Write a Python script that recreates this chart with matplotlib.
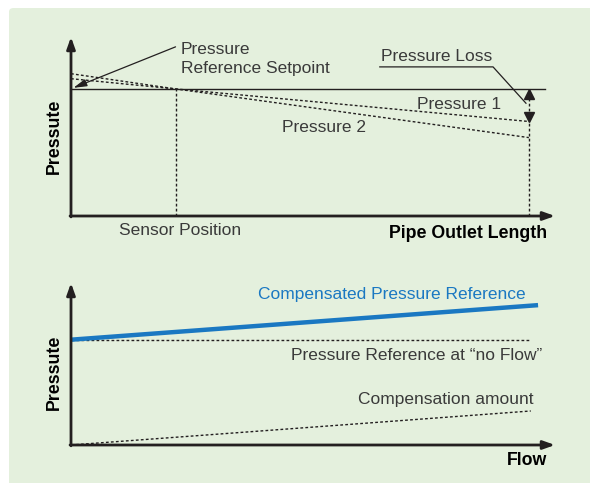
import matplotlib.pyplot as plt
from matplotlib.patches import FancyBboxPatch

# top chart: pressure along the pipe (arbitrary units, 0-100)
length = [0, 21.6, 94.6]          # pipe start, sensor position, pipe outlet
setpoint = 71
pressure_1 = [76.7, 71, 52.8]
pressure_2 = [79.5, 71, 43.8]
setpoint_end = 98

# bottom chart: pressure reference vs flow
flow = [0, 95]
compensation = [0, 21]
reference_no_flow = 65
compensated = [reference_no_flow + c for c in compensation]
blue_flow = [0, 96.5]
blue_ref = [reference_no_flow, reference_no_flow + 21 * 96.5 / 95]

W, H = 590, 483
DARK = '#231f20'
TEXT = '#3a3a3a'
BLUE = '#1a78c2'
GREEN = '#e4f0dd'
FS = 12.5
FSB = 12.8

plt.rcParams['font.family'] = ['Liberation Sans', 'DejaVu Sans']

fig = plt.figure(figsize=(W / 100, H / 100), dpi=100)
fig.patch.set_facecolor('white')
bg = FancyBboxPatch((9 / W, -0.05), 1.1, (H - 8) / H + 0.05,
                    boxstyle='round,pad=0,rounding_size=0.008',
                    transform=fig.transFigure, facecolor=GREEN,
                    edgecolor='none', zorder=-10)
fig.patches.append(bg)


def px_axes(x0, y_top, x1, y_bot):
    return fig.add_axes([x0 / W, 1 - y_bot / H, (x1 - x0) / W, (y_bot - y_top) / H])


def setup(ax):
    ax.set_xlim(0, 100)
    ax.set_ylim(0, 100)
    ax.set_facecolor('none')
    for s in ax.spines.values():
        s.set_visible(False)
    ax.set_xticks([])
    ax.set_yticks([])
    arrow = dict(arrowstyle='-|>,head_length=0.7,head_width=0.25', color=DARK,
                 lw=2, shrinkA=0, shrinkB=0)
    ax.annotate('', xy=(0, 1.0), xytext=(0, -0.005), xycoords='axes fraction',
                arrowprops=arrow)
    ax.annotate('', xy=(1.0, 0), xytext=(-0.002, 0), xycoords='axes fraction',
                arrowprops=arrow)


dots = (0, (2, 1.6))

# ---------- top chart ----------
ax1 = px_axes(71, 37, 555, 216)
setup(ax1)
ax1.plot([0, setpoint_end], [setpoint, setpoint], color=DARK, lw=1)
ax1.plot(length, pressure_1, color=DARK, lw=1, ls=dots)
ax1.plot(length, pressure_2, color=DARK, lw=1, ls=dots)
ax1.plot([length[1], length[1]], [0, setpoint], color=DARK, lw=1, ls=dots)
ax1.plot([length[2], length[2]], [0, setpoint], color=DARK, lw=1, ls=dots)
ax1.plot(length[2], setpoint - 2.6, marker='^', ms=6.5, color=DARK)
ax1.plot(length[2], pressure_1[2] + 2.6, marker='v', ms=6.5, color=DARK)

ax1.text(22.7, 87.7, 'Pressure\nReference Setpoint', fontsize=FS, color=TEXT,
         va='center', ha='left', linespacing=1.4)
ax1.annotate('', xy=(0.5, setpoint + 0.6), xytext=(21.6, 94.5),
             arrowprops=dict(arrowstyle='-|>,head_length=0.8,head_width=0.22',
                             color=DARK, lw=0.9, shrinkA=0, shrinkB=0))
ax1.text(64.0, 89.3, 'Pressure Loss', fontsize=FS, color=TEXT, va='center', ha='left')
ax1.plot([63.8, 87.2, 94.0], [83.3, 83.3, 63.0], color=DARK, lw=0.9)
ax1.text(71.5, 62.5, 'Pressure 1', fontsize=FS, color=TEXT, va='center', ha='left')
ax1.text(43.5, 49.3, 'Pressure 2', fontsize=FS, color=TEXT, va='center', ha='left')
ax1.text(9.9, -8.3, 'Sensor Position', fontsize=FS, color=TEXT, va='center', ha='left')
ax1.text(98.4, -9.6, 'Pipe Outlet Length', fontsize=FSB, color='black',
         fontweight='bold', va='center', ha='right')
ax1.text(-3.5, 44.5, 'Pressute', fontsize=FSB, fontweight='bold', color='black',
         rotation=90, va='center', ha='center')

# ---------- bottom chart ----------
ax2 = px_axes(71, 283, 555, 445)
setup(ax2)
ax2.plot(flow, [reference_no_flow] * 2, color=DARK, lw=1, ls=dots)
ax2.plot(flow, compensation, color=DARK, lw=1, ls=dots)
ax2.plot(blue_flow, blue_ref, color=BLUE, lw=3.2, solid_capstyle='butt')

ax2.text(38.6, 92.8, 'Compensated Pressure Reference', fontsize=FS, color=BLUE,
         va='center', ha='left')
ax2.text(97.3, 55, 'Pressure Reference at \u201cno Flow\u201d', fontsize=FS, color=TEXT,
         va='center', ha='right')
ax2.text(95.5, 27.8, 'Compensation amount', fontsize=FS, color=TEXT,
         va='center', ha='right')
ax2.text(98.4, -9.5, 'Flow', fontsize=FSB, color='black', fontweight='bold',
         va='center', ha='right')
ax2.text(-3.5, 45, 'Pressute', fontsize=FSB, fontweight='bold', color='black',
         rotation=90, va='center', ha='center')

fig.savefig('out.png', dpi=100)
